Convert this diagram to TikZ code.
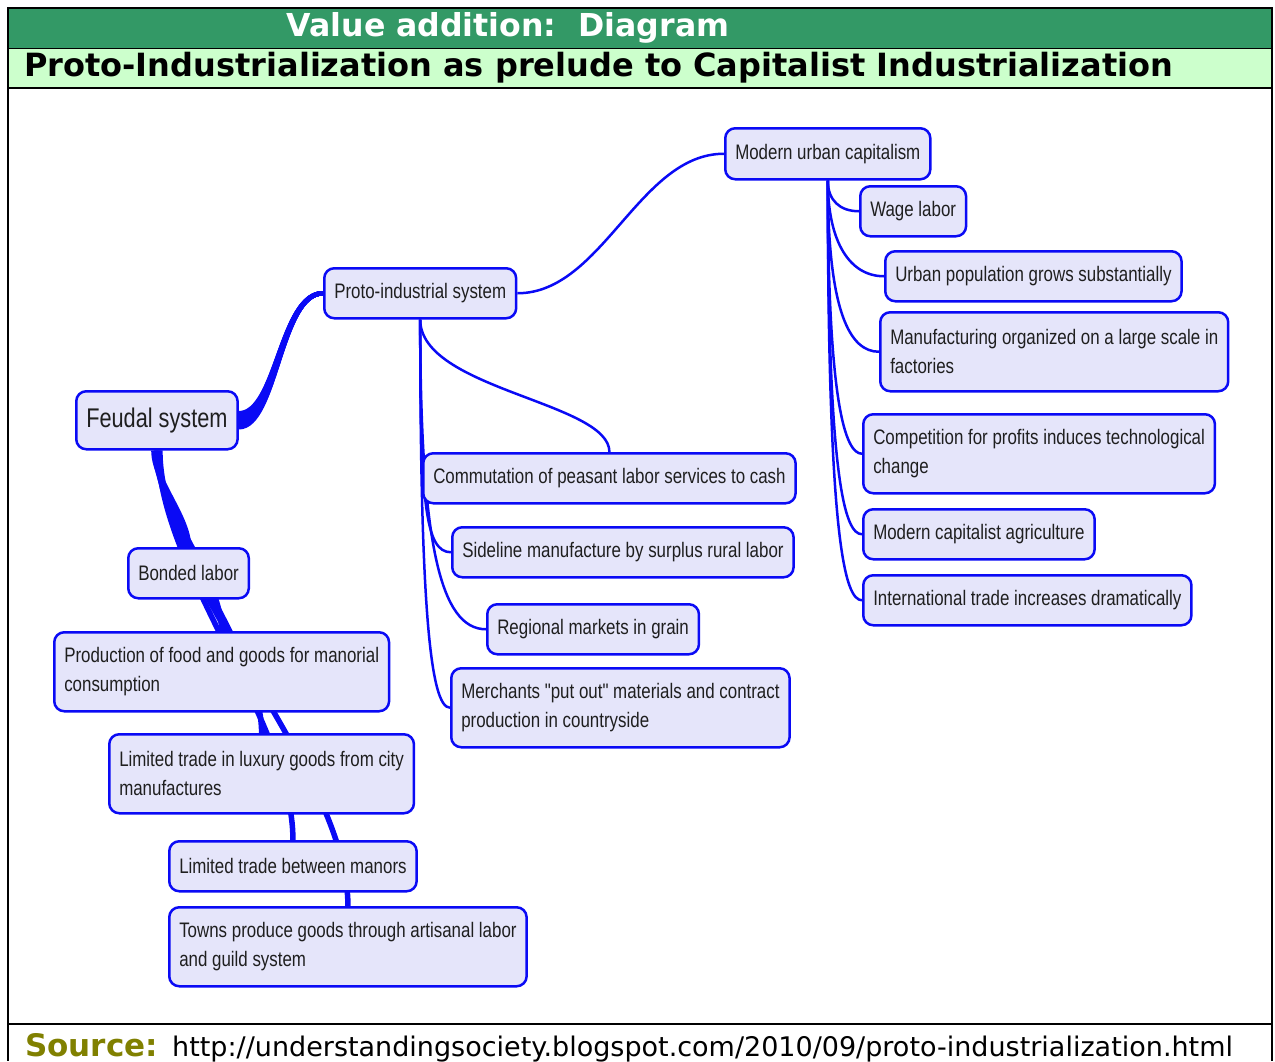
\documentclass[tikz,border=0pt]{standalone}
\usepackage{fontspec}
\usepackage{tikz}
\usetikzlibrary{backgrounds}
\setmainfont{DejaVu Sans}
\newfontfamily\nodefont[FakeStretch=0.805]{Liberation Sans}
\definecolor{headgreen}{RGB}{51,153,102}
\definecolor{subgreen}{RGB}{204,255,204}
\definecolor{linkblue}{RGB}{10,10,245}
\definecolor{boxfill}{RGB}{229,229,250}
\definecolor{srcolive}{RGB}{128,128,0}
\tikzset{
    topic/.style={draw=linkblue, line width=2.5pt, fill=boxfill, rounded corners=10pt,
        anchor=north west, inner xsep=10pt, inner ysep=0pt, minimum height=50pt,
        align=left, text=black!88, font=\nodefont\fontsize{21}{29}\selectfont},
    tall/.style={minimum height=79pt},
    link/.style={draw=linkblue, line width=2.5pt},
    feudal link/.style={draw=linkblue, line width=5.5pt},
}
\begin{document}
\begin{tikzpicture}[x=1pt,y=-1pt]
        \useasboundingbox (0,0) rectangle (1275,1061);
        \fill[headgreen] (8,8) rectangle (1272,48);
        \fill[subgreen] (8,48) rectangle (1272,88);
        \draw[line width=2pt] (8,8) -- (1272,8);
        \draw[line width=1pt] (8,48) -- (1272,48);
        \draw[line width=1.2pt] (8,88) -- (1272,88);
        \draw[line width=1.2pt] (8,1024) -- (1272,1024);
        \draw[line width=2pt] (8,7) -- (8,1061);
        \draw[line width=2pt] (1272,7) -- (1272,1061);
        \node[text=white, font=\fontsize{31.6}{36}\selectfont\bfseries] (title) at (508,28) {Value addition:\ \ Diagram};
        \node[anchor=west, inner sep=0pt, font=\fontsize{32}{36}\selectfont\bfseries] (subtitle) at (24,68)
            {Proto-Industrialization as prelude to Capitalist Industrialization};
        \node[anchor=base west, inner sep=0pt, text=srcolive, font=\fontsize{31}{34}\selectfont\bfseries] (srclabel) at (25,1056) {Source:};
        \node[anchor=base west, inner sep=0pt, font=\fontsize{27}{32}\selectfont] (srcurl) at (172,1056)
            {http://understandingsociety.blogspot.com/2010/09/proto-industrialization.html};

        \node[topic, minimum height=58pt, font=\nodefont\fontsize{27}{32}\selectfont] (feudal) at (75,390) {Feudal system};
        \node[topic] (proto) at (323,267) {Proto-industrial system};
        \node[topic, minimum height=51pt] (modern) at (724,127) {Modern urban capitalism};
        \node[topic] (wage) at (859,185) {Wage labor};
        \node[topic] (urbanpop) at (884,250) {Urban population grows substantially};
        \node[topic, tall] (manuf) at (879,311) {Manufacturing organized on a large scale in\\factories};
        \node[topic, tall] (compet) at (862,413) {Competition for profits induces technological\\change};
        \node[topic] (agri) at (862,508) {Modern capitalist agriculture};
        \node[topic] (intl) at (862,574) {International trade increases dramatically};
        \node[topic] (commut) at (422,452) {Commutation of peasant labor services to cash};
        \node[topic] (sideline) at (451,526) {Sideline manufacture by surplus rural labor};
        \node[topic] (regional) at (486,603) {Regional markets in grain};
        \node[topic, tall] (merchants) at (450,667) {Merchants "put out" materials and contract\\production in countryside};
        \node[topic] (bonded) at (127,547) {Bonded labor};
        \node[topic, tall] (production) at (53,631) {Production of food and goods for manorial\\consumption};
        \node[topic, tall] (luxury) at (108,733) {Limited trade in luxury goods from city\\manufactures};
        \node[topic] (manors) at (168,840) {Limited trade between manors};
        \node[topic, tall] (towns) at (168,906) {Towns produce goods through artisanal labor\\and guild system};

        \begin{scope}[on background layer]
            \foreach \d in {-7,-6,...,7}
                \draw[link, line width=4.5pt] ([yshift=\d pt]feudal.east) .. controls +(38,0) and +(-43,0) .. (proto.west);
            \foreach \child/\shift/\bend in {bonded/-3/30, production/-1.5/55, luxury/0/85, manors/1.5/118, towns/3/137}
                \draw[feudal link] ([xshift=\shift pt]feudal.south) .. controls +(0,\bend) and +(0,-\bend) .. (\child.north);
            \draw[link] (proto.east) .. controls +(85,0) and +(-85,0) .. (modern.west);
            \draw[link] (proto.south) .. controls +(0,70) and +(0,-50) .. (commut.north);
            \foreach \child/\down/\side in {sideline/183/26, regional/223/46, merchants/283/20}
                \draw[link] (proto.south) .. controls +(0,\down) and +(-\side,0) .. (\child.west);
            \foreach \child/\down/\side in {wage/20/19, urbanpop/62/34, manuf/132/29, compet/222/17, agri/302/17, intl/362/17}
                \draw[link] (modern.south) .. controls +(0,\down) and +(-\side,0) .. (\child.west);
        \end{scope}
\end{tikzpicture}
\end{document}
